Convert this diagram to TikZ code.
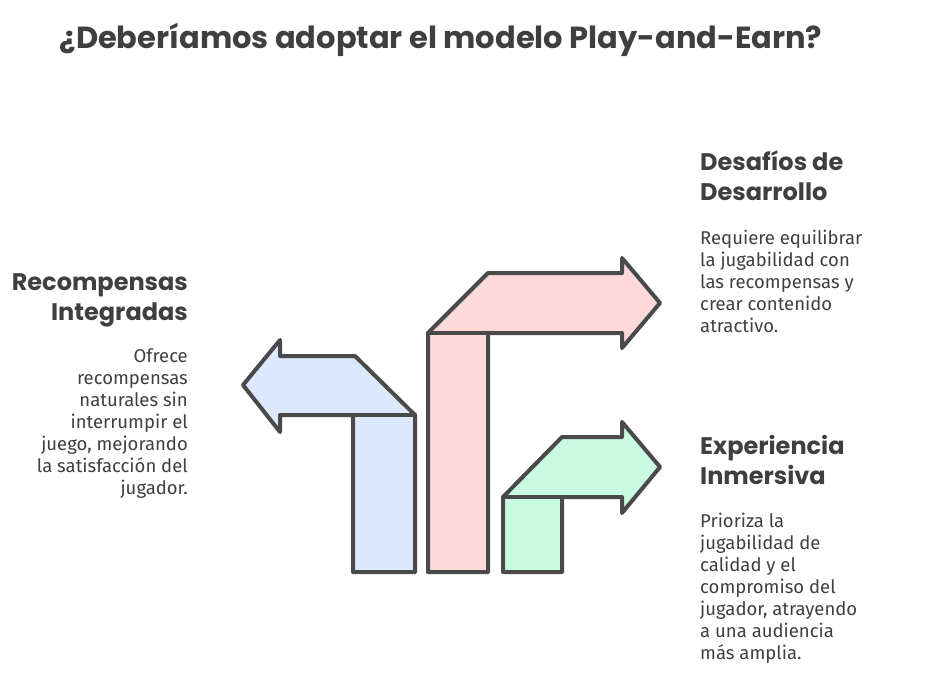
\documentclass[tikz,border=0pt]{standalone}
\usepackage{fontspec}
\setmainfont{Fira Sans}
\newfontfamily\headfont{Poppins}
\definecolor{ink}{HTML}{3F3F3F}
\definecolor{edge}{HTML}{4A4A4A}
\definecolor{bluefill}{HTML}{DCE8FD}
\definecolor{redfill}{HTML}{FDD9D9}
\definecolor{greenfill}{HTML}{C9FBE2}

\begin{document}
\begin{tikzpicture}[x=1pt,y=-1pt,
  heading/.style={font=\headfont\bfseries\fontsize{24}{30}\selectfont,text=ink,inner sep=0pt},
  body/.style={font=\fontsize{18.5}{22}\selectfont,text=ink,inner sep=0pt},
  bentarrow/.style={draw=edge,line width=4pt,line join=round,line cap=round}]
\useasboundingbox (0,0) rectangle (925,693);

\node[font=\headfont\bfseries\fontsize{30.5}{36}\selectfont,text=ink] (title) at (441,40) {¿Deberíamos adoptar el modelo Play-and-Earn?};

\path
(188,320) node[heading,anchor=base east,align=right](recTitle) {Recompensas\\Integradas}
(188,494) node[body,anchor=base east,align=right](recText) {Ofrece\\recompensas\\naturales sin\\interrumpir el\\juego, mejorando\\la satisfacción del\\jugador.}
(700,200) node[heading,anchor=base west,align=left](desTitle) {Desafíos de\\Desarrollo}
(700,332) node[body,anchor=base west,align=left](desText) {Requiere equilibrar\\la jugabilidad con\\las recompensas y\\crear contenido\\atractivo.}
(700,484) node[heading,anchor=base west,align=left](expTitle) {Experiencia\\Inmersiva}
(700,659) node[body,anchor=base west,align=left](expText) {Prioriza la\\jugabilidad de\\calidad y el\\compromiso del\\jugador, atrayendo\\a una audiencia\\más amplia.};

\draw[bentarrow,fill=bluefill] (353,572) -- (353,415) -- (280,415) -- (280,432) -- (243,385) -- (280,340) -- (280,356) -- (355,356) -- (415,415) -- (415,572) -- cycle;
\draw[bentarrow] (353,415) -- (415,415);

\draw[bentarrow,fill=redfill] (428,572) -- (428,333) -- (488,273) -- (622,273) -- (622,258) -- (660,303) -- (622,348) -- (622,333) -- (488,333) -- (488,572) -- cycle;
\draw[bentarrow] (428,333) -- (488,333);

\draw[bentarrow,fill=greenfill] (503,572) -- (503,497) -- (562,437) -- (622,437) -- (622,422) -- (660,467) -- (622,513) -- (622,497) -- (562,497) -- (562,572) -- cycle;
\draw[bentarrow] (503,497) -- (562,497);
\end{tikzpicture}
\end{document}
